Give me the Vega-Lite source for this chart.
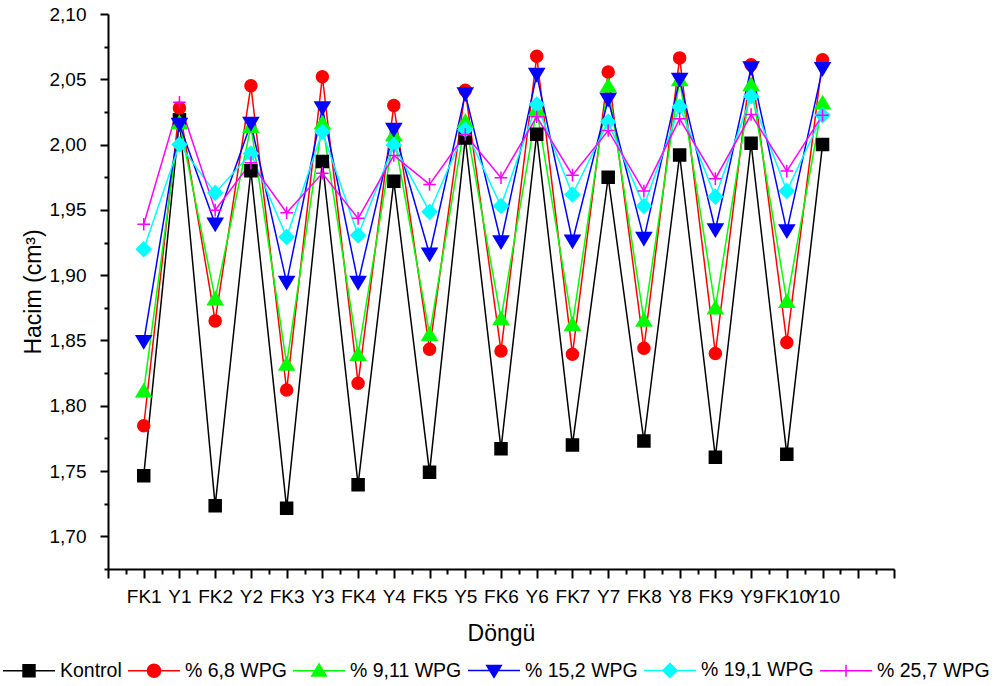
{
  "$schema": "https://vega.github.io/schema/vega-lite/v6.json",
  "autosize": "none",
  "width": 786,
  "height": 555,
  "padding": {"left": 108, "top": 14, "right": 100, "bottom": 117},
  "background": "white",
  "config": {"view": {"stroke": null}, "font": "Liberation Sans"},
  "data": {"values": [
    {"n":1,"dongu":"FK1","s":"Kontrol","v":1.7465},{"n":2,"dongu":"Y1","s":"Kontrol","v":2.019},{"n":3,"dongu":"FK2","s":"Kontrol","v":1.7235},{"n":4,"dongu":"Y2","s":"Kontrol","v":1.980},{"n":5,"dongu":"FK3","s":"Kontrol","v":1.7216},{"n":6,"dongu":"Y3","s":"Kontrol","v":1.987},{"n":7,"dongu":"FK4","s":"Kontrol","v":1.7396},{"n":8,"dongu":"Y4","s":"Kontrol","v":1.972},{"n":9,"dongu":"FK5","s":"Kontrol","v":1.749},{"n":10,"dongu":"Y5","s":"Kontrol","v":2.005},{"n":11,"dongu":"FK6","s":"Kontrol","v":1.767},{"n":12,"dongu":"Y6","s":"Kontrol","v":2.008},{"n":13,"dongu":"FK7","s":"Kontrol","v":1.770},{"n":14,"dongu":"Y7","s":"Kontrol","v":1.975},{"n":15,"dongu":"FK8","s":"Kontrol","v":1.773},{"n":16,"dongu":"Y8","s":"Kontrol","v":1.992},{"n":17,"dongu":"FK9","s":"Kontrol","v":1.7606},{"n":18,"dongu":"Y9","s":"Kontrol","v":2.001},{"n":19,"dongu":"FK10","s":"Kontrol","v":1.7628},{"n":20,"dongu":"Y10","s":"Kontrol","v":2.000},
    {"n":1,"dongu":"FK1","s":"% 6,8 WPG","v":1.7847},{"n":2,"dongu":"Y1","s":"% 6,8 WPG","v":2.028},{"n":3,"dongu":"FK2","s":"% 6,8 WPG","v":1.865},{"n":4,"dongu":"Y2","s":"% 6,8 WPG","v":2.045},{"n":5,"dongu":"FK3","s":"% 6,8 WPG","v":1.812},{"n":6,"dongu":"Y3","s":"% 6,8 WPG","v":2.052},{"n":7,"dongu":"FK4","s":"% 6,8 WPG","v":1.8173},{"n":8,"dongu":"Y4","s":"% 6,8 WPG","v":2.030},{"n":9,"dongu":"FK5","s":"% 6,8 WPG","v":1.8433},{"n":10,"dongu":"Y5","s":"% 6,8 WPG","v":2.0416},{"n":11,"dongu":"FK6","s":"% 6,8 WPG","v":1.842},{"n":12,"dongu":"Y6","s":"% 6,8 WPG","v":2.0676},{"n":13,"dongu":"FK7","s":"% 6,8 WPG","v":1.8395},{"n":14,"dongu":"Y7","s":"% 6,8 WPG","v":2.0556},{"n":15,"dongu":"FK8","s":"% 6,8 WPG","v":1.844},{"n":16,"dongu":"Y8","s":"% 6,8 WPG","v":2.0664},{"n":17,"dongu":"FK9","s":"% 6,8 WPG","v":1.840},{"n":18,"dongu":"Y9","s":"% 6,8 WPG","v":2.0612},{"n":19,"dongu":"FK10","s":"% 6,8 WPG","v":1.8485},{"n":20,"dongu":"Y10","s":"% 6,8 WPG","v":2.065},
    {"n":1,"dongu":"FK1","s":"% 9,11 WPG","v":1.8115},{"n":2,"dongu":"Y1","s":"% 9,11 WPG","v":2.017},{"n":3,"dongu":"FK2","s":"% 9,11 WPG","v":1.882},{"n":4,"dongu":"Y2","s":"% 9,11 WPG","v":2.014},{"n":5,"dongu":"FK3","s":"% 9,11 WPG","v":1.832},{"n":6,"dongu":"Y3","s":"% 9,11 WPG","v":2.0167},{"n":7,"dongu":"FK4","s":"% 9,11 WPG","v":1.8395},{"n":8,"dongu":"Y4","s":"% 9,11 WPG","v":2.0077},{"n":9,"dongu":"FK5","s":"% 9,11 WPG","v":1.8548},{"n":10,"dongu":"Y5","s":"% 9,11 WPG","v":2.0179},{"n":11,"dongu":"FK6","s":"% 9,11 WPG","v":1.8668},{"n":12,"dongu":"Y6","s":"% 9,11 WPG","v":2.027},{"n":13,"dongu":"FK7","s":"% 9,11 WPG","v":1.8625},{"n":14,"dongu":"Y7","s":"% 9,11 WPG","v":2.045},{"n":15,"dongu":"FK8","s":"% 9,11 WPG","v":1.8657},{"n":16,"dongu":"Y8","s":"% 9,11 WPG","v":2.0498},{"n":17,"dongu":"FK9","s":"% 9,11 WPG","v":1.875},{"n":18,"dongu":"Y9","s":"% 9,11 WPG","v":2.046},{"n":19,"dongu":"FK10","s":"% 9,11 WPG","v":1.880},{"n":20,"dongu":"Y10","s":"% 9,11 WPG","v":2.032},
    {"n":1,"dongu":"FK1","s":"% 15,2 WPG","v":1.849},{"n":2,"dongu":"Y1","s":"% 15,2 WPG","v":2.0154},{"n":3,"dongu":"FK2","s":"% 15,2 WPG","v":1.939},{"n":4,"dongu":"Y2","s":"% 15,2 WPG","v":2.0161},{"n":5,"dongu":"FK3","s":"% 15,2 WPG","v":1.8943},{"n":6,"dongu":"Y3","s":"% 15,2 WPG","v":2.028},{"n":7,"dongu":"FK4","s":"% 15,2 WPG","v":1.8943},{"n":8,"dongu":"Y4","s":"% 15,2 WPG","v":2.0115},{"n":9,"dongu":"FK5","s":"% 15,2 WPG","v":1.916},{"n":10,"dongu":"Y5","s":"% 15,2 WPG","v":2.0388},{"n":11,"dongu":"FK6","s":"% 15,2 WPG","v":1.9254},{"n":12,"dongu":"Y6","s":"% 15,2 WPG","v":2.0536},{"n":13,"dongu":"FK7","s":"% 15,2 WPG","v":1.926},{"n":14,"dongu":"Y7","s":"% 15,2 WPG","v":2.0345},{"n":15,"dongu":"FK8","s":"% 15,2 WPG","v":1.928},{"n":16,"dongu":"Y8","s":"% 15,2 WPG","v":2.0498},{"n":17,"dongu":"FK9","s":"% 15,2 WPG","v":1.9346},{"n":18,"dongu":"Y9","s":"% 15,2 WPG","v":2.0587},{"n":19,"dongu":"FK10","s":"% 15,2 WPG","v":1.9338},{"n":20,"dongu":"Y10","s":"% 15,2 WPG","v":2.058},
    {"n":1,"dongu":"FK1","s":"% 19,1 WPG","v":1.9198},{"n":2,"dongu":"Y1","s":"% 19,1 WPG","v":2.000},{"n":3,"dongu":"FK2","s":"% 19,1 WPG","v":1.963},{"n":4,"dongu":"Y2","s":"% 19,1 WPG","v":1.9932},{"n":5,"dongu":"FK3","s":"% 19,1 WPG","v":1.9292},{"n":6,"dongu":"Y3","s":"% 19,1 WPG","v":2.0098},{"n":7,"dongu":"FK4","s":"% 19,1 WPG","v":1.9305},{"n":8,"dongu":"Y4","s":"% 19,1 WPG","v":1.9996},{"n":9,"dongu":"FK5","s":"% 19,1 WPG","v":1.9486},{"n":10,"dongu":"Y5","s":"% 19,1 WPG","v":2.0115},{"n":11,"dongu":"FK6","s":"% 19,1 WPG","v":1.9529},{"n":12,"dongu":"Y6","s":"% 19,1 WPG","v":2.0307},{"n":13,"dongu":"FK7","s":"% 19,1 WPG","v":1.9618},{"n":14,"dongu":"Y7","s":"% 19,1 WPG","v":2.0174},{"n":15,"dongu":"FK8","s":"% 19,1 WPG","v":1.9529},{"n":16,"dongu":"Y8","s":"% 19,1 WPG","v":2.0289},{"n":17,"dongu":"FK9","s":"% 19,1 WPG","v":1.960},{"n":18,"dongu":"Y9","s":"% 19,1 WPG","v":2.037},{"n":19,"dongu":"FK10","s":"% 19,1 WPG","v":1.9644},{"n":20,"dongu":"Y10","s":"% 19,1 WPG","v":2.0225},
    {"n":1,"dongu":"FK1","s":"% 25,7 WPG","v":1.939},{"n":2,"dongu":"Y1","s":"% 25,7 WPG","v":2.0324},{"n":3,"dongu":"FK2","s":"% 25,7 WPG","v":1.9498},{"n":4,"dongu":"Y2","s":"% 25,7 WPG","v":1.986},{"n":5,"dongu":"FK3","s":"% 25,7 WPG","v":1.9478},{"n":6,"dongu":"Y3","s":"% 25,7 WPG","v":1.978},{"n":7,"dongu":"FK4","s":"% 25,7 WPG","v":1.9435},{"n":8,"dongu":"Y4","s":"% 25,7 WPG","v":1.9917},{"n":9,"dongu":"FK5","s":"% 25,7 WPG","v":1.9695},{"n":10,"dongu":"Y5","s":"% 25,7 WPG","v":2.0077},{"n":11,"dongu":"FK6","s":"% 25,7 WPG","v":1.9746},{"n":12,"dongu":"Y6","s":"% 25,7 WPG","v":2.0213},{"n":13,"dongu":"FK7","s":"% 25,7 WPG","v":1.9766},{"n":14,"dongu":"Y7","s":"% 25,7 WPG","v":2.0108},{"n":15,"dongu":"FK8","s":"% 25,7 WPG","v":1.9644},{"n":16,"dongu":"Y8","s":"% 25,7 WPG","v":2.0197},{"n":17,"dongu":"FK9","s":"% 25,7 WPG","v":1.9739},{"n":18,"dongu":"Y9","s":"% 25,7 WPG","v":2.023},{"n":19,"dongu":"FK10","s":"% 25,7 WPG","v":1.9797},{"n":20,"dongu":"Y10","s":"% 25,7 WPG","v":2.0225}
  ]},
  "encoding": {
    "x": {
      "field": "n", "type": "quantitative",
      "scale": {"domain": [0, 22], "nice": false, "zero": false},
      "axis": {
        "title": "Döngü",
        "values": [0,0.5,1,1.5,2,2.5,3,3.5,4,4.5,5,5.5,6,6.5,7,7.5,8,8.5,9,9.5,10,10.5,11,11.5,12,12.5,13,13.5,14,14.5,15,15.5,16,16.5,17,17.5,18,18.5,19,19.5,20,20.5,21,21.5,22],
        "labelExpr": "datum.value % 1 === 0 && datum.value >= 1 && datum.value <= 20 ? ['FK1','Y1','FK2','Y2','FK3','Y3','FK4','Y4','FK5','Y5','FK6','Y6','FK7','Y7','FK8','Y8','FK9','Y9','FK10','Y10'][datum.value - 1] : ''",
        "labelOverlap": false, "labelFlush": false, "grid": false,
        "labelFont": "Liberation Sans", "labelFontSize": 19, "labelColor": "#000000", "labelPadding": 9,
        "tickSize": {"condition": {"test": "datum.value % 1 === 0", "value": 9}, "value": 5},
        "tickColor": "#000000", "tickWidth": 2, "domainColor": "#000000", "domainWidth": 2,
        "titleFont": "Liberation Sans", "titleFontSize": 23, "titleFontWeight": "normal", "titleColor": "#000000", "titlePadding": 16
      }
    },
    "y": {
      "field": "v", "type": "quantitative",
      "scale": {"domain": [1.675, 2.10], "nice": false, "zero": false},
      "axis": {
        "title": "Hacim (cm³)",
        "values": [1.675,1.7,1.725,1.75,1.775,1.8,1.825,1.85,1.875,1.9,1.925,1.95,1.975,2.0,2.025,2.05,2.075,2.1],
        "labelExpr": "abs(datum.value*20 - round(datum.value*20)) < 0.001 ? replace(format(datum.value, '.2f'), '.', ',') : ''",
        "labelOverlap": false, "labelFlush": false, "grid": false,
        "labelFont": "Liberation Sans", "labelFontSize": 19, "labelColor": "#000000", "labelPadding": 14,
        "tickSize": {"condition": {"test": "abs(datum.value*20 - round(datum.value*20)) < 0.001", "value": 8}, "value": 4},
        "tickColor": "#000000", "tickWidth": 2, "domainColor": "#000000", "domainWidth": 2,
        "titleFont": "Liberation Sans", "titleFontSize": 23, "titleFontWeight": "normal", "titleColor": "#000000", "titlePadding": 4
      }
    }
  },
  "layer": [
    {
      "mark": {"type": "line", "strokeWidth": 1.5},
      "encoding": {
        "color": {
          "field": "s", "type": "nominal",
          "scale": {"domain": ["Kontrol","% 6,8 WPG","% 9,11 WPG","% 15,2 WPG","% 19,1 WPG","% 25,7 WPG"], "range": ["#000000","#ff0000","#00ff00","#0000ff","#00ffff","#ff00ff"]}
        }
      }
    },
    {
      "mark": {"type": "point", "filled": true, "size": 144, "opacity": 1, "strokeWidth": 1.5},
      "encoding": {
        "color": {
          "field": "s", "type": "nominal",
          "scale": {"domain": ["Kontrol","% 6,8 WPG","% 9,11 WPG","% 15,2 WPG","% 19,1 WPG","% 25,7 WPG"], "range": ["#000000","#ff0000","#00ff00","#0000ff","#00ffff","#ff00ff"]},
          "legend": {
            "orient": "none", "legendX": -106, "legendY": 629, "direction": "horizontal", "columns": 6,
            "title": null, "padding": 0, "columnPadding": 3, "labelOffset": 4,
            "symbolSize": 2704, "symbolStrokeWidth": 1.5,
            "symbolType": {"expr": "datum.value === 'Kontrol' ? 'M-1,0H1M-0.23,-0.23H0.23V0.23H-0.23Z' : datum.value === '% 6,8 WPG' ? 'M-1,0H1M-0.25,0A0.25,0.25,0,1,0,0.25,0A0.25,0.25,0,1,0,-0.25,0Z' : datum.value === '% 9,11 WPG' ? 'M-1,0H1M0,-0.26L0.28,0.2H-0.28Z' : datum.value === '% 15,2 WPG' ? 'M-1,0H1M0,0.26L0.28,-0.2H-0.28Z' : datum.value === '% 19,1 WPG' ? 'M-1,0H1M0,-0.27L0.27,0L0,0.27L-0.27,0Z' : 'M-1,0H1M0,-0.23V0.23'"},
            "labelFont": "Liberation Sans", "labelFontSize": 19.5, "labelColor": "#000000", "labelBaseline": "middle"
          }
        },
        "stroke": {
          "field": "s", "type": "nominal",
          "scale": {"domain": ["Kontrol","% 6,8 WPG","% 9,11 WPG","% 15,2 WPG","% 19,1 WPG","% 25,7 WPG"], "range": ["#000000","#ff0000","#00ff00","#0000ff","#00ffff","#ff00ff"]}
        },
        "shape": {
          "field": "s", "type": "nominal",
          "scale": {"domain": ["% 25,7 WPG","Kontrol","% 6,8 WPG","% 9,11 WPG","% 15,2 WPG","% 19,1 WPG"], "range": ["M-1.05,0H1.05M0,-1.05V1.05","M-1,-1H1V1H-1Z","circle","M0,-1.1L1.25,1H-1.25Z","M0,1.1L1.25,-1H-1.25Z","M0,-1.2L1.2,0L0,1.2L-1.2,0Z"]},
          "legend": null
        }
      }
    }
  ]
}
